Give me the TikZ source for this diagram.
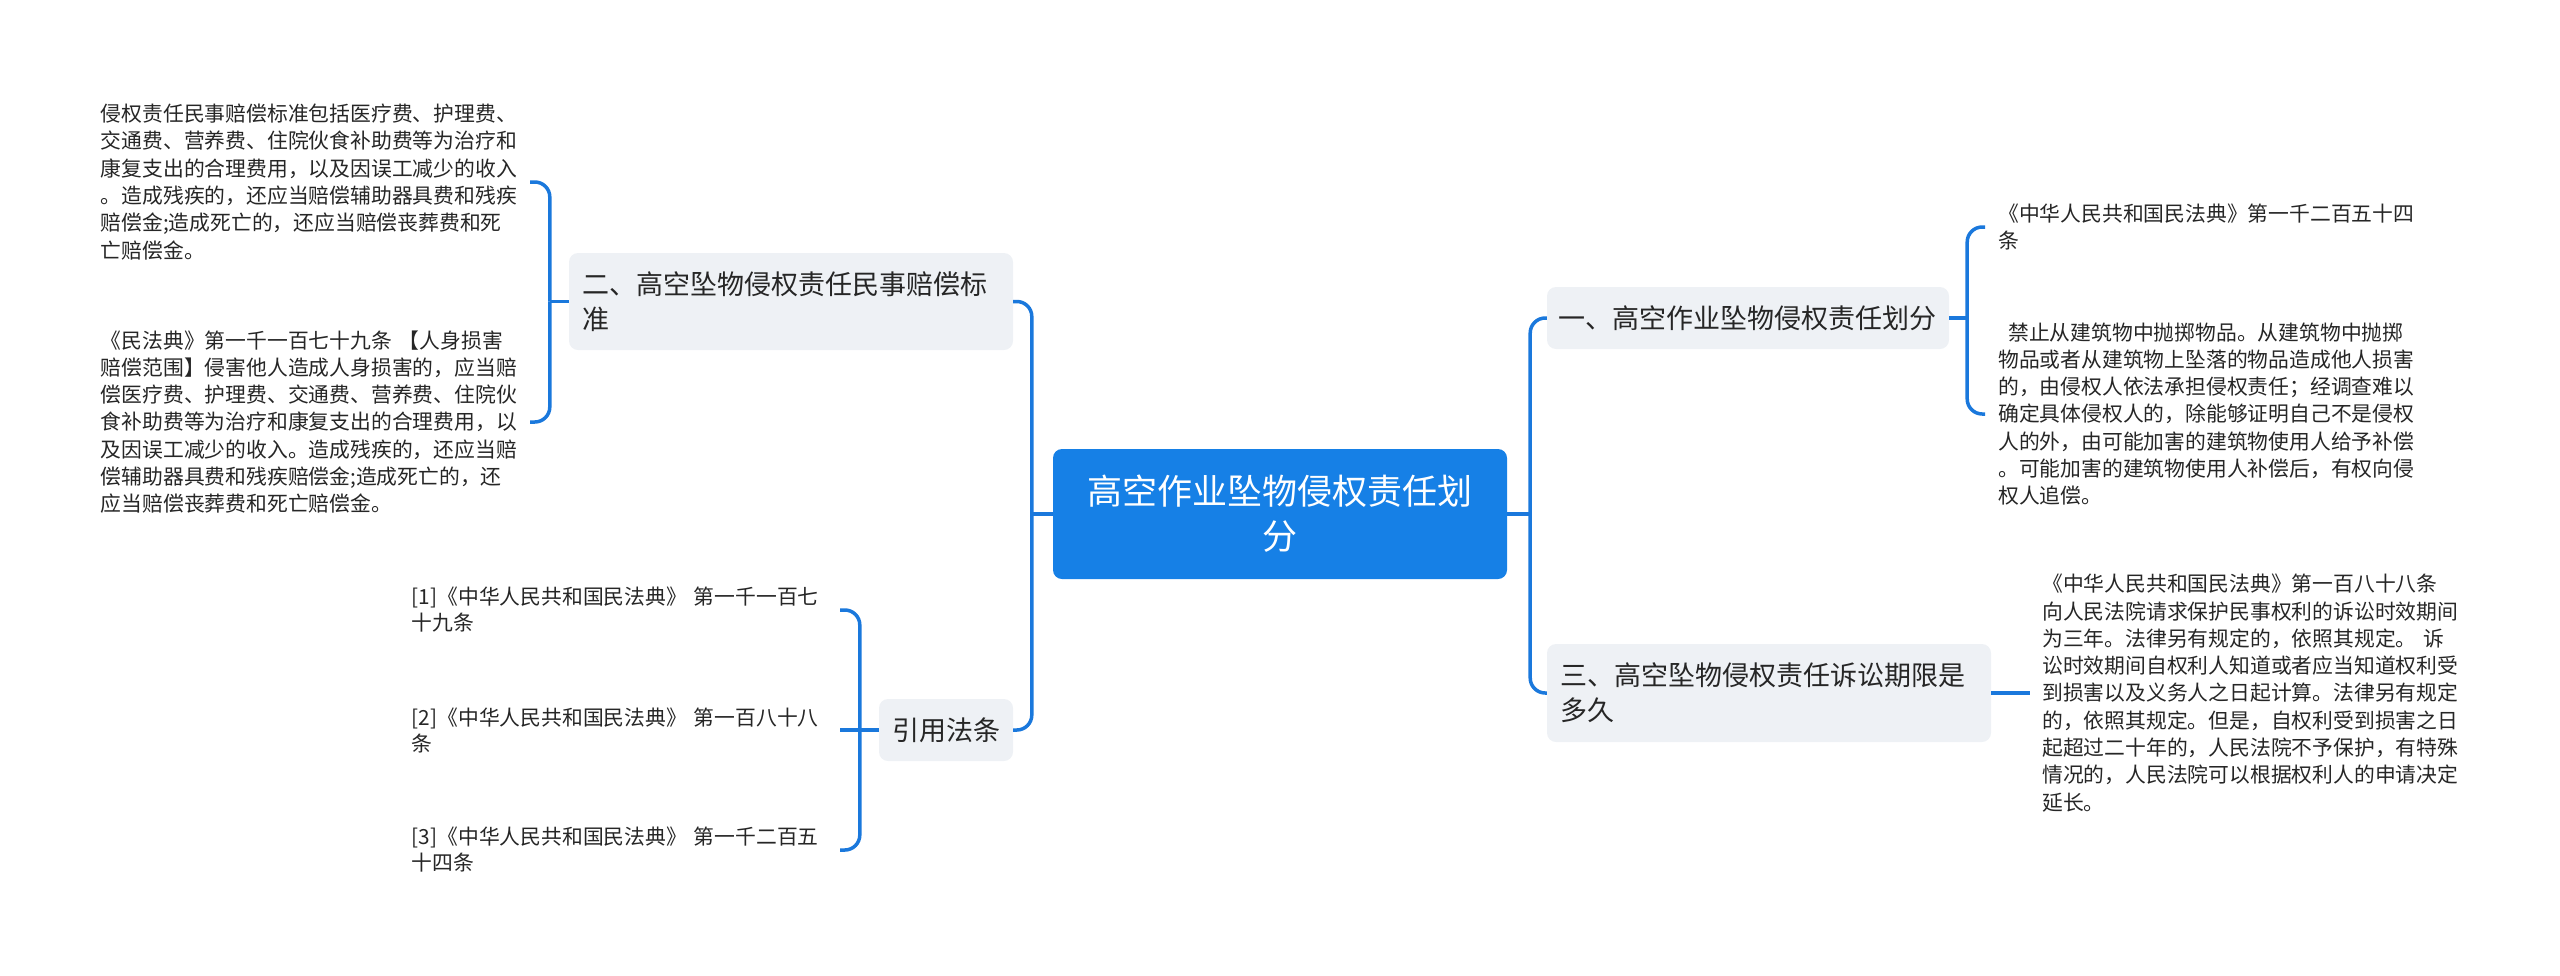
\documentclass[tikz,border=0pt]{standalone}
\usepackage{fontspec}
\setmainfont{Noto Sans CJK SC}
\definecolor{mblue}{HTML}{1680E6}
\definecolor{lblue}{HTML}{1A78DC}
\definecolor{gfill}{HTML}{EEF1F5}
\definecolor{txt}{HTML}{262626}
\begin{document}
\begin{tikzpicture}[x=1pt,y=-1pt,
  conn/.style={draw=lblue,line width=3.5pt,rounded corners=15pt},
  mainbox/.style={fill=gfill,rounded corners=9pt,text=txt,align=left,
    font=\fontsize{27}{35}\selectfont,inner xsep=13pt,inner ysep=0pt,anchor=center},
  rootbox/.style={fill=mblue,rounded corners=9pt,text=white,align=center,
    font=\fontsize{35}{45}\selectfont,inner sep=0pt,anchor=center,
    minimum width=454pt,minimum height=130pt},
  leaf/.style={text=txt,align=left,font=\fontsize{20.8}{27.3}\selectfont,inner ysep=0pt},
  cite/.style={text=txt,align=left,font=\fontsize{20.8}{26}\selectfont,inner ysep=0pt,
    inner xsep=0pt,text width=428pt,anchor=east}
]
\useasboundingbox (0,0) rectangle (2560,975);

% main nodes
\node[rootbox] (root) at (1280,514) {高空作业坠物侵权责任划\\分};
\node[mainbox,text width=418pt,minimum height=97pt] (n2) at (791,301.5)
  {二、高空坠物侵权责任民事赔偿标\\准};
\node[mainbox,text width=108pt,inner xsep=13pt,minimum height=62pt] (yin) at (946,730)
  {引用法条};
\node[mainbox,text width=380pt,inner xsep=11pt,minimum height=62pt] (n1) at (1748,318)
  {一、高空作业坠物侵权责任划分};
\node[mainbox,text width=418pt,minimum height=98pt] (n3) at (1769,693)
  {三、高空坠物侵权责任诉讼期限是\\多久};

% left leaves
\node[leaf,inner xsep=0pt,text width=429pt,anchor=east] (L1) at (530,182)
  {侵权责任民事赔偿标准包括医疗费、护理费、\\
   交通费、营养费、住院伙食补助费等为治疗和\\
   康复支出的合理费用，以及因误工减少的收入\\
   。造成残疾的，还应当赔偿辅助器具费和残疾\\
   赔偿金;造成死亡的，还应当赔偿丧葬费和死\\
   亡赔偿金。};
\node[leaf,inner xsep=0pt,text width=429pt,anchor=east] (L2) at (530,422)
  {《民法典》第一千一百七十九条 【人身损害\\
   赔偿范围】侵害他人造成人身损害的，应当赔\\
   偿医疗费、护理费、交通费、营养费、住院伙\\
   食补助费等为治疗和康复支出的合理费用，以\\
   及因误工减少的收入。造成残疾的，还应当赔\\
   偿辅助器具费和残疾赔偿金;造成死亡的，还\\
   应当赔偿丧葬费和死亡赔偿金。};

% citations
\node[cite] (C1) at (840,610) {[1]《中华人民共和国民法典》 第一千一百七\\十九条};
\node[cite] (C2) at (840,730) {[2]《中华人民共和国民法典》 第一百八十八\\条};
\node[cite] (C3) at (840,850) {[3]《中华人民共和国民法典》 第一千二百五\\十四条};

% right leaves
\node[leaf,inner xsep=13pt,text width=420pt,anchor=west] (R1) at (1985,227)
  {《中华人民共和国民法典》第一千二百五十四\\条};
\node[leaf,inner xsep=13pt,text width=420pt,anchor=west] (R2) at (1985,414)
  {\hspace*{10pt}禁止从建筑物中抛掷物品。从建筑物中抛掷\\
   物品或者从建筑物上坠落的物品造成他人损害\\
   的，由侵权人依法承担侵权责任；经调查难以\\
   确定具体侵权人的，除能够证明自己不是侵权\\
   人的外，由可能加害的建筑物使用人给予补偿\\
   。可能加害的建筑物使用人补偿后，有权向侵\\
   权人追偿。};
\node[leaf,inner xsep=12pt,text width=440pt,anchor=west] (R3) at (2030,693)
  {《中华人民共和国民法典》第一百八十八条\\
   向人民法院请求保护民事权利的诉讼时效期间\\
   为三年。法律另有规定的，依照其规定。 诉\\
   讼时效期间自权利人知道或者应当知道权利受\\
   到损害以及义务人之日起计算。法律另有规定\\
   的，依照其规定。但是，自权利受到损害之日\\
   起超过二十年的，人民法院不予保护，有特殊\\
   情况的，人民法院可以根据权利人的申请决定\\
   延长。};

% junctions
\coordinate (jl) at ([xshift=-21pt]root.west);
\coordinate (jr) at ([xshift=23pt]root.east);
\coordinate (j2) at ([xshift=-19pt]n2.west);
\coordinate (jy) at ([xshift=-19pt]yin.west);
\coordinate (j1) at ([xshift=18pt]n1.east);

% connectors
\draw[conn] (root.west) -- (jl);
\draw[conn] (jl) |- (n2.east);
\draw[conn] (jl) |- (yin.east);
\draw[conn] (root.east) -- (jr);
\draw[conn] (jr) |- (n1.west);
\draw[conn] (jr) |- (n3.west);

\draw[conn] (n2.west) -- (j2);
\draw[conn] (j2) |- (L1.east);
\draw[conn] (j2) |- (L2.east);

\draw[conn] (yin.west) -- (C2.east);
\draw[conn] (jy) |- (C1.east);
\draw[conn] (jy) |- (C3.east);

\draw[conn] (n1.east) -- (j1);
\draw[conn] (j1) |- (R1.west);
\draw[conn] (j1) |- (R2.west);

\draw[conn] (n3.east) -- (R3.west);
\end{tikzpicture}
\end{document}
